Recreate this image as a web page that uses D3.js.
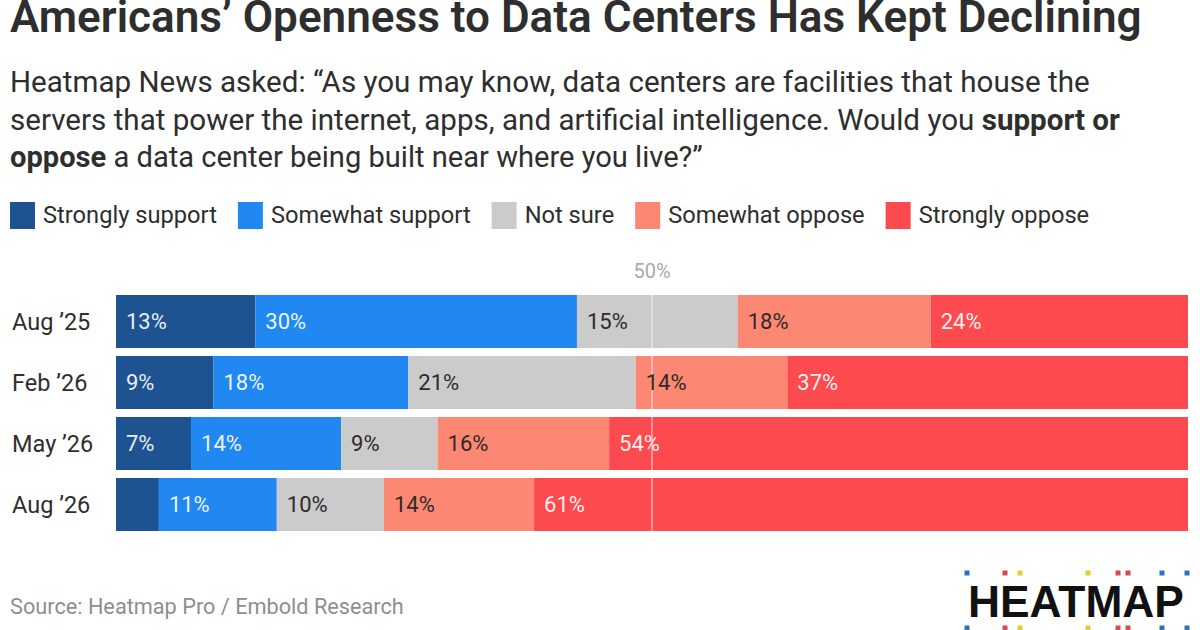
<!DOCTYPE html>
<html>
<head>
<meta charset="utf-8">
<script src="https://cdn.jsdelivr.net/npm/d3@7"></script>
<style>
  html, body { margin: 0; padding: 0; background: #fff; }
  svg { display: block; font-family: Roboto, "Noto Sans", sans-serif; }
</style>
</head>
<body>
<div id="chart"></div>
<script>
// survey waves and answer options
const periods = ['Aug ’25', 'Feb ’26', 'May ’26', 'Aug ’26'];
const responses = ['Strongly support', 'Somewhat support', 'Not sure', 'Somewhat oppose', 'Strongly oppose'];
const responseColors = ['#1d5390', '#2088f0', '#cbcbcb', '#fc8874', '#fd4a4e'];

// percent per wave
const stronglySupport = [13, 9, 7, 4];
const somewhatSupport = [30, 18, 14, 11];
const notSure = [15, 21, 9, 10];
const somewhatOppose = [18, 14, 16, 14];
const stronglyOppose = [24, 37, 54, 61];

const subtitleLines = [
    [['Heatmap News asked: “As you may know, data centers are facilities that house the', 400]],
    [['servers that power the internet, apps, and artificial intelligence. Would you ', 400], ['support or', 700]],
    [['oppose', 700], [' a data center being built near where you live?”', 400]]
];

const width = 1200, height = 630;
const textColor = '#2e2e2e';

const svg = d3.select('#chart').append('svg')
    .attr('width', width)
    .attr('height', height);

// squeeze or stretch font size so a text hits a target width
function fitWidth(sel, target) {
    const w = sel.node().getComputedTextLength();
    const fs = parseFloat(sel.style('font-size'));
    sel.style('font-size', (fs * target / w) + 'px');
    return fs * target / w;
}

// title
const title = svg.append('text')
    .attr('x', 10).attr('y', 32)
    .style('font-size', '38px')
    .style('font-weight', 600)
    .attr('fill', textColor)
    .text('Americans’ Openness to Data Centers Has Kept Declining');
fitWidth(title, 1132);

// subtitle
const subTargets = [1080, 1110, 693];
subtitleLines.forEach((parts, i) => {
    const t = svg.append('text')
        .attr('x', 10).attr('y', 92 + i * 37.5)
        .style('font-size', '24px')
        .attr('fill', textColor);
    parts.forEach(p => {
        t.append('tspan').style('font-weight', p[1]).text(p[0]);
    });
    fitWidth(t, subTargets[i]);
});

// legend, font size taken from the first entry's width
let lx = 10;
let legendSize = 22;
const legend = svg.append('g').attr('class', 'legend');
responses.forEach((r, i) => {
    legend.append('rect')
        .attr('x', lx).attr('y', 202)
        .attr('width', 25).attr('height', 27)
        .attr('fill', responseColors[i]);
    const t = legend.append('text')
        .attr('x', lx + 33).attr('y', 223)
        .style('font-size', legendSize + 'px')
        .attr('fill', textColor)
        .text(r);
    if (i === 0) legendSize = fitWidth(t, 174);
    lx += 33 + t.node().getComputedTextLength() + 21;
});

// rows
const rows = periods.map((p, i) => ({
    period: p,
    'Strongly support': stronglySupport[i],
    'Somewhat support': somewhatSupport[i],
    'Not sure': notSure[i],
    'Somewhat oppose': somewhatOppose[i],
    'Strongly oppose': stronglyOppose[i]
}));

const stack = d3.stack()
    .keys(responses)
    .offset(d3.stackOffsetExpand);
const series = stack(rows);

const x = d3.scaleLinear().domain([0, 1]).range([116, 1188]);
const y = d3.scaleBand()
    .domain(periods)
    .range([295, 531])
    .paddingInner(8 / 61)
    .paddingOuter(0);

const color = d3.scaleOrdinal().domain(responses).range(responseColors);
const lightText = ['Strongly support', 'Somewhat support', 'Strongly oppose'];

const groups = svg.append('g').selectAll('g')
    .data(series)
    .join('g')
    .attr('fill', d => color(d.key));

groups.selectAll('rect')
    .data(d => d)
    .join('rect')
    .attr('x', d => x(d[0]))
    .attr('y', d => y(d.data.period))
    .attr('width', d => x(d[1]) - x(d[0]))
    .attr('height', y.bandwidth());

// 50% reference line
svg.append('line')
    .attr('x1', x(0.5)).attr('x2', x(0.5))
    .attr('y1', y.range()[0]).attr('y2', y.range()[1])
    .attr('stroke', '#fff')
    .attr('stroke-opacity', 0.55)
    .attr('stroke-width', 1.5);

svg.append('text')
    .attr('x', x(0.5)).attr('y', 278)
    .attr('text-anchor', 'middle')
    .style('font-size', '20px')
    .attr('fill', '#a9a9a9')
    .text('50%');

// segment labels
series.forEach(s => {
    svg.append('g').selectAll('text')
        .data(s.filter(d => d.data[s.key] >= 5))
        .join('text')
        .attr('x', d => x(d[0]) + 10)
        .attr('y', d => y(d.data.period) + y.bandwidth() / 2)
        .attr('dy', '0.36em')
        .style('font-size', '22px')
        .attr('fill', lightText.includes(s.key) ? '#ffffff' : '#2e2a2a')
        .attr('fill-opacity', lightText.includes(s.key) ? 0.92 : 1)
        .text(d => d.data[s.key] + '%');
});

// row labels
svg.append('g').selectAll('text')
    .data(periods)
    .join('text')
    .attr('x', 12)
    .attr('y', d => y(d) + y.bandwidth() / 2)
    .attr('dy', '0.36em')
    .style('font-size', '23.5px')
    .attr('fill', textColor)
    .text(d => d);

// source
const source = svg.append('text')
    .attr('x', 10).attr('y', 614)
    .style('font-size', '20px')
    .attr('fill', '#8e8e8e')
    .text('Source: Heatmap Pro / Embold Research');
fitWidth(source, 394);

// HEATMAP wordmark with dotted rows
const logoDotX = [967, 1005, 1020, 1088, 1118, 1128, 1162, 1187];
const logoDotColor = ['#2f6fc0', '#d9474f', '#e2cf2a', '#e2cf2a', '#d9474f', '#d9474f', '#2f6fc0', '#2f6fc0'];
const logo = svg.append('g');
[573, 628].forEach(cy => {
    logo.selectAll(null)
        .data(logoDotX)
        .join('rect')
        .attr('x', d => d - 2.5).attr('y', cy - 2.5)
        .attr('width', 5).attr('height', 5)
        .attr('fill', (d, i) => logoDotColor[i]);
});
const word = logo.append('text')
    .attr('x', 968).attr('y', 617)
    .style('font-family', '"Liberation Sans", Arial, sans-serif')
    .style('font-size', '44px')
    .style('font-weight', 700)
    .attr('fill', '#111')
    .text('HEATMAP');
fitWidth(word, 216);
</script>
</body>
</html>
